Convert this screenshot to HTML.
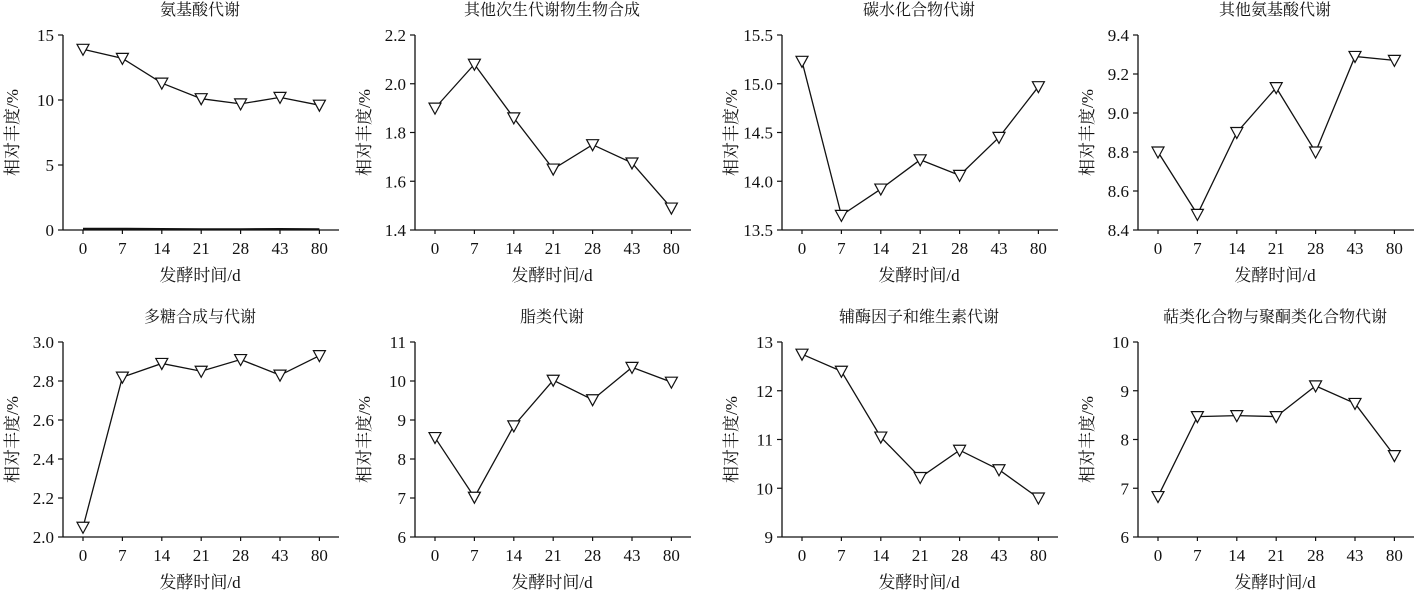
<!DOCTYPE html>
<html><head><meta charset="utf-8"><style>
html,body{margin:0;padding:0;background:#fff;}
svg{display:block;}
text{font-family:"Liberation Serif","Noto Serif CJK SC",serif;fill:#111;}
</style></head><body>
<svg id="s" width="1416" height="599" viewBox="0 0 1416 599" xmlns="http://www.w3.org/2000/svg"></svg>
<script>
const P=[
{t:"氨基酸代谢",x0:63,yt:35,yb:230,min:0,max:15,ticks:[0,5,10,15],fmt:v=>v,d:[13.9,13.2,11.3,10.1,9.7,10.2,9.6],extra:[0.1,0.1,0.08,0.06,0.06,0.08,0.06]},
{t:"其他次生代谢物生物合成",x0:415,yt:35,yb:230,min:1.4,max:2.2,ticks:[1.4,1.6,1.8,2.0,2.2],fmt:v=>v.toFixed(1),d:[1.90,2.08,1.86,1.65,1.75,1.675,1.49]},
{t:"碳水化合物代谢",x0:782,yt:35,yb:230,min:13.5,max:15.5,ticks:[13.5,14,14.5,15,15.5],fmt:v=>v.toFixed(1),d:[15.23,13.65,13.92,14.22,14.06,14.45,14.97]},
{t:"其他氨基酸代谢",x0:1138,yt:35,yb:230,min:8.4,max:9.4,ticks:[8.4,8.6,8.8,9.0,9.2,9.4],fmt:v=>v.toFixed(1),d:[8.80,8.48,8.90,9.13,8.80,9.29,9.27]},
{t:"多糖合成与代谢",x0:63,yt:342,yb:537,min:2.0,max:3.0,ticks:[2.0,2.2,2.4,2.6,2.8,3.0],fmt:v=>v.toFixed(1),d:[2.05,2.82,2.89,2.85,2.91,2.83,2.93]},
{t:"脂类代谢",x0:415,yt:342,yb:537,min:6,max:11,ticks:[6,7,8,9,10,11],fmt:v=>v,d:[8.55,7.02,8.85,10.02,9.52,10.35,9.97]},
{t:"辅酶因子和维生素代谢",x0:782,yt:342,yb:537,min:9,max:13,ticks:[9,10,11,12,13],fmt:v=>v,d:[12.75,12.4,11.05,10.22,10.78,10.38,9.8]},
{t:"萜类化合物与聚酮类化合物代谢",x0:1138,yt:342,yb:537,min:6,max:10,ticks:[6,7,8,9,10],fmt:v=>v,d:[6.83,8.47,8.49,8.47,9.1,8.74,7.67]}
];
const X=["0","7","14","21","28","43","80"];
let h="";
for(const p of P){
 const Y=v=>p.yb-(v-p.min)/(p.max-p.min)*(p.yb-p.yt);
 const XX=i=>p.x0+20+i*39.4;
 const cx=p.x0+137;
 h+=`<text x="${cx}" y="${p.yt-20}" font-size="16" text-anchor="middle">${p.t}</text>`;
 h+=`<line x1="${p.x0}" y1="${p.yt}" x2="${p.x0}" y2="${p.yb}" stroke="#111" stroke-width="1.3"/>`;
 h+=`<line x1="${p.x0}" y1="${p.yb}" x2="${p.x0+276}" y2="${p.yb}" stroke="#111" stroke-width="1.3"/>`;
 for(const t of p.ticks){const y=Y(t);h+=`<line x1="${p.x0-5}" y1="${y}" x2="${p.x0}" y2="${y}" stroke="#111" stroke-width="1.2"/><text x="${p.x0-9}" y="${y+6}" font-size="17" text-anchor="end">${p.fmt(t)}</text>`;}
 X.forEach((l,i)=>{const x=XX(i);h+=`<line x1="${x}" y1="${p.yb}" x2="${x}" y2="${p.yb+4}" stroke="#111" stroke-width="1.2"/><text x="${x}" y="${p.yb+24}" font-size="17" text-anchor="middle">${l}</text>`;});
 h+=`<text x="${cx}" y="${p.yb+51}" font-size="17" text-anchor="middle">发酵时间/d</text>`;
 const ly=(p.yt+p.yb)/2, lx=p.x0-45;
 h+=`<text transform="translate(${lx},${ly}) rotate(-90)" font-size="17" text-anchor="middle">相对丰度/%</text>`;
 if(p.extra){h+=`<polyline points="${p.extra.map((v,i)=>XX(i)+","+Y(v)).join(" ")}" fill="none" stroke="#111" stroke-width="2"/>`;}
 h+=`<polyline points="${p.d.map((v,i)=>XX(i)+","+Y(v)).join(" ")}" fill="none" stroke="#111" stroke-width="1.3"/>`;
 p.d.forEach((v,i)=>{const x=XX(i),y=Y(v);h+=`<polygon points="${x-6},${y-5} ${x+6},${y-5} ${x},${y+6}" fill="#fff" stroke="#111" stroke-width="1.2"/>`;});
}
document.getElementById("s").innerHTML=h;
</script>
</body></html>
